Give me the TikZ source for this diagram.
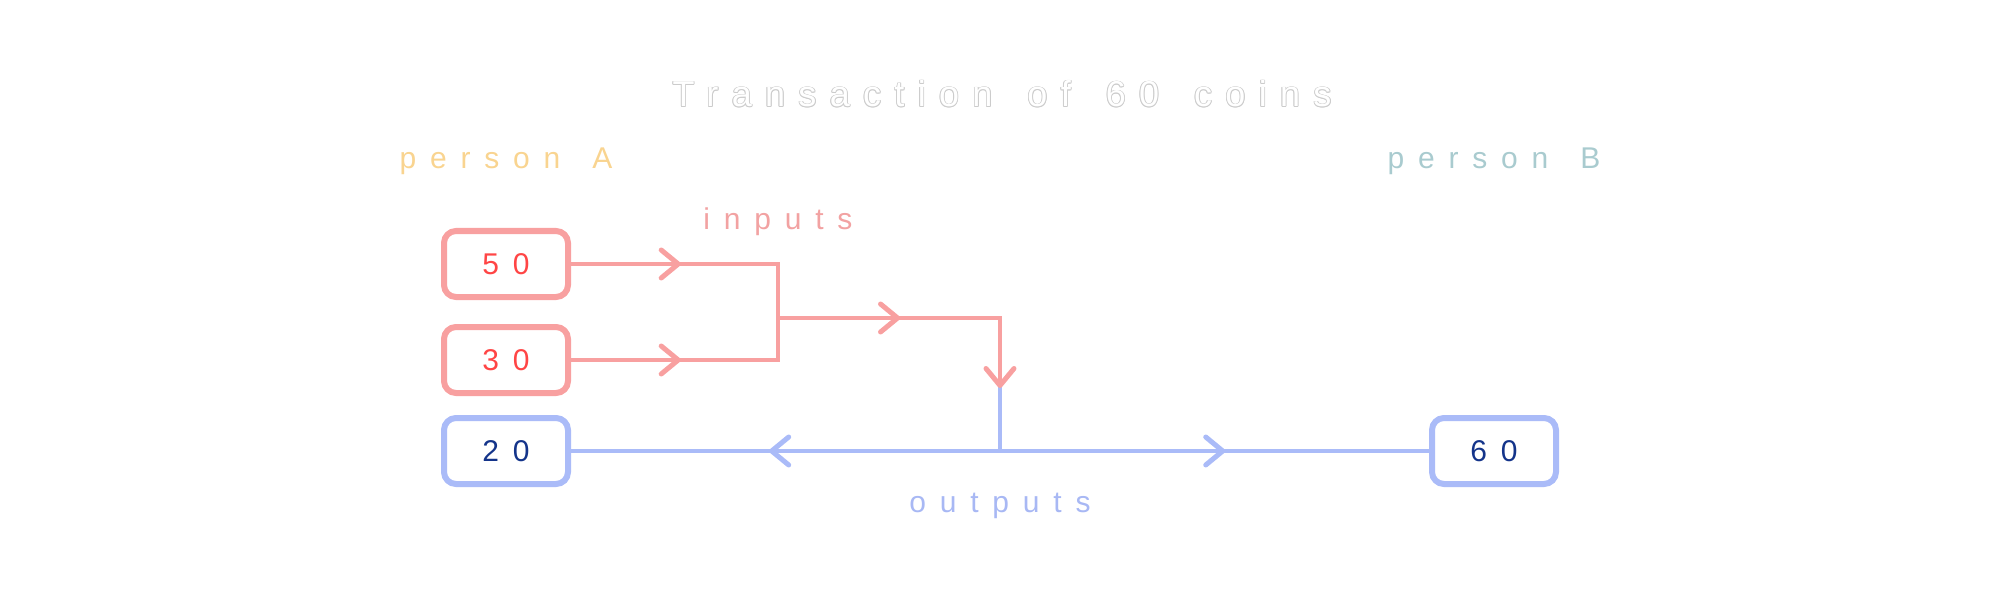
\documentclass[tikz,border=0pt]{standalone}
\usepackage{fontspec}
\setmainfont{Liberation Sans}
\newfontfamily\lblfont[LetterSpace=46,WordSpace=1.45]{Liberation Sans}
\newfontfamily\ttlfont[LetterSpace=37,WordSpace=1.5]{Liberation Sans}
\usetikzlibrary{arrows.meta,decorations.markings}
\definecolor{boxred}{HTML}{F8A0A0}
\definecolor{numred}{HTML}{FF4545}
\definecolor{boxblue}{HTML}{AABBF8}
\definecolor{numblue}{HTML}{14348A}
\definecolor{inred}{HTML}{F2A2A2}
\definecolor{outblue}{HTML}{A8B8F4}
\definecolor{personA}{HTML}{F9D490}
\definecolor{personB}{HTML}{A9CBCF}
\definecolor{outlinegray}{HTML}{CCCCCC}
\tikzset{
  tipv/.tip={Straight Barb[length=8.5pt,width=14pt,round,line width=2.5pt]},
  coinbox/.style={draw, line width=3pt, rounded corners=6pt, minimum width=62pt,
    minimum height=33pt, inner sep=0pt, font=\lblfont\fontsize{15}{18}\selectfont},
  redbox/.style={coinbox, draw=boxred, text=numred},
  bluebox/.style={coinbox, draw=boxblue, text=numblue},
  lbl/.style={inner sep=0pt, anchor=base, font=\lblfont\fontsize{15}{18}\selectfont},
  ttl/.style={inner sep=0pt, anchor=base, font=\ttlfont\fontsize{18}{22}\selectfont},
  redline/.style={draw=boxred, line width=2.1pt, line cap=rect, line join=miter},
  blueline/.style={draw=boxblue, line width=2.1pt, line cap=rect, line join=miter},
  midarr/.style={postaction={decorate}, decoration={markings,
    mark=at position #1 with {\arrow{tipv}}}}
}
\begin{document}
\begin{tikzpicture}[x=0.5pt,y=-0.5pt]
\useasboundingbox (0,0) rectangle (1999,599);
% title with outline
\foreach \a in {0,45,...,315}
  \node[ttl, text=outlinegray, shift={(\a:0.45pt)}] (ttl\a) at (1002,107) {Transaction of 60 coins};
\node[ttl, text=white] (title) at (1002,107) {Transaction of 60 coins};
% labels
\node[lbl, text=personA] (pa) at (506,169) {person A};
\node[lbl, text=personB] (pb) at (1494,169) {person B};
\node[lbl, text=inred] (inp) at (778,229) {inputs};
\node[lbl, text=outblue] (outp) at (1000,512) {outputs};
% boxes
\node[redbox] (b50) at (506,264) {50};
\node[redbox] (b30) at (506,360) {30};
\node[bluebox] (b20) at (506,451) {20};
\node[bluebox] (b60) at (1494,451) {60};
% junctions
\coordinate (j1) at (778,264);
\coordinate (j2) at (778,360);
\coordinate (j3) at (778,318);
\coordinate (j4) at (1000,318);
\coordinate (j6) at (1000,388);
\coordinate (j5) at (1000,451);
% blue outputs
\draw[blueline] (j6) -- (j5);
\draw[blueline, midarr=0.538] (j5) -- (b20.east);
\draw[blueline, midarr=0.525] (j5) -- (b60.west);
% red inputs
\draw[redline, midarr=0.53] (b50.east) -- (j1);
\draw[redline, midarr=0.53] (b30.east) -- (j2);
\draw[redline] (j1) -- (j2);
\draw[redline, line cap=butt, midarr=0.418, -{tipv}] (j3) -- (j4) -- (j6);
\end{tikzpicture}
\end{document}
